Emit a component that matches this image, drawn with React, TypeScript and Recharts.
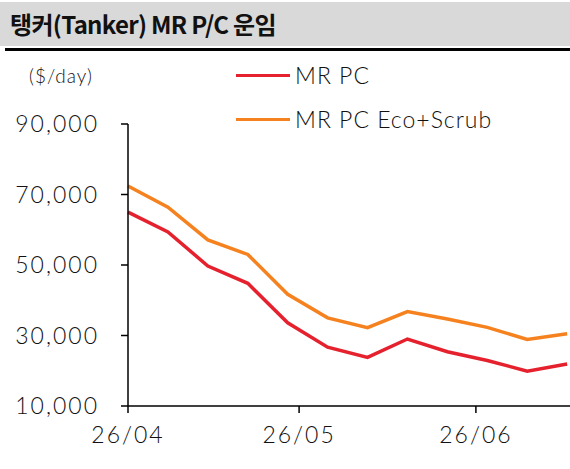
import { LineChart, Line, XAxis, YAxis } from 'recharts';

// weekly points, days counted from 26/04/01
const DAYS = [0, 7, 14, 21, 28, 35, 42, 49, 56, 63, 70, 77];
const MR_PC = [65000, 59400, 49700, 44800, 33600, 26700, 23800, 29000, 25400, 22900, 19900, 21900];
const MR_PC_ECO = [72400, 66400, 57100, 53000, 41700, 35000, 32200, 36800, 34700, 32300, 28900, 30500];

const X_TICKS = [0, 30, 61];
const X_LABELS = ['26/04', '26/05', '26/06'];
const Y_TICKS = [10000, 30000, 50000, 70000, 90000];

const RED = '#e6212e';
const ORANGE = '#f5821f';
const FONT = 'Lato, "Noto Sans", sans-serif';

const data = DAYS.map((d, i) => ({ day: d, pc: MR_PC[i], eco: MR_PC_ECO[i] }));

const SERIES = [
  { key: 'pc', name: 'MR PC', color: RED },
  { key: 'eco', name: 'MR PC Eco+Scrub', color: ORANGE },
];

function LegendBox() {
  return (
    <div style={{ position: 'absolute', left: 236, top: 53 }}>
      {SERIES.map((s) => (
        <div key={s.key} style={{ display: 'flex', alignItems: 'center', height: 44 }}>
          <div style={{ width: 54, height: 3, background: s.color, marginRight: 5 }} />
          <span style={{ fontFamily: FONT, fontWeight: 300, fontSize: 23, letterSpacing: 1, color: '#111' }}>{s.name}</span>
        </div>
      ))}
    </div>
  );
}

export default function App() {
  const tickStyle = { fill: '#111', fontSize: 23, fontFamily: FONT, fontWeight: 300, letterSpacing: 2 };
  return (
    <div style={{ position: 'absolute', left: 0, top: 0, width: 570, height: 469, background: '#fff', overflow: 'hidden' }}>
      <div
        style={{
          position: 'absolute', left: 0, top: 2, width: 570, height: 44, background: '#d9d9d9',
          fontFamily: '"Noto Sans CJK KR", sans-serif', fontWeight: 700, fontSize: 24,
          letterSpacing: -0.7, lineHeight: '44px', paddingLeft: 10, boxSizing: 'border-box', color: '#111',
        }}
      >
        탱커(Tanker) MR P/C 운임
      </div>
      <div style={{ position: 'absolute', left: 5, top: 48, width: 565, height: 3, background: '#000' }} />
      <div style={{ position: 'absolute', left: 29, top: 64, fontFamily: FONT, fontWeight: 300, fontSize: 19, letterSpacing: 1, color: '#111' }}>
        ($/day)
      </div>
      <LegendBox />
      <div style={{ position: 'absolute', left: 0, top: 0 }}>
        <LineChart width={570} height={469} data={data} margin={{ top: 124, right: 0, bottom: 23, left: 0 }}>
          <XAxis
            dataKey="day"
            type="number"
            domain={[0, 77.5]}
            ticks={X_TICKS}
            tickFormatter={(v: number) => X_LABELS[X_TICKS.indexOf(v)] ?? ''}
            height={40}
            tickSize={7}
            tickMargin={14}
            stroke="#000"
            strokeWidth={1.5}
            tick={tickStyle}
            interval={0}
          />
          <YAxis
            type="number"
            domain={[10000, 90000]}
            ticks={Y_TICKS}
            tickFormatter={(v: number) => v.toLocaleString('en-US')}
            width={128}
            tickSize={7}
            tickMargin={22}
            stroke="#000"
            strokeWidth={1.5}
            tick={tickStyle}
            interval={0}
          />
          {SERIES.map((s) => (
            <Line
              key={s.key}
              type="linear"
              dataKey={s.key}
              name={s.name}
              stroke={s.color}
              strokeWidth={3.5}
              dot={false}
              isAnimationActive={false}
            />
          ))}
        </LineChart>
      </div>
    </div>
  );
}
